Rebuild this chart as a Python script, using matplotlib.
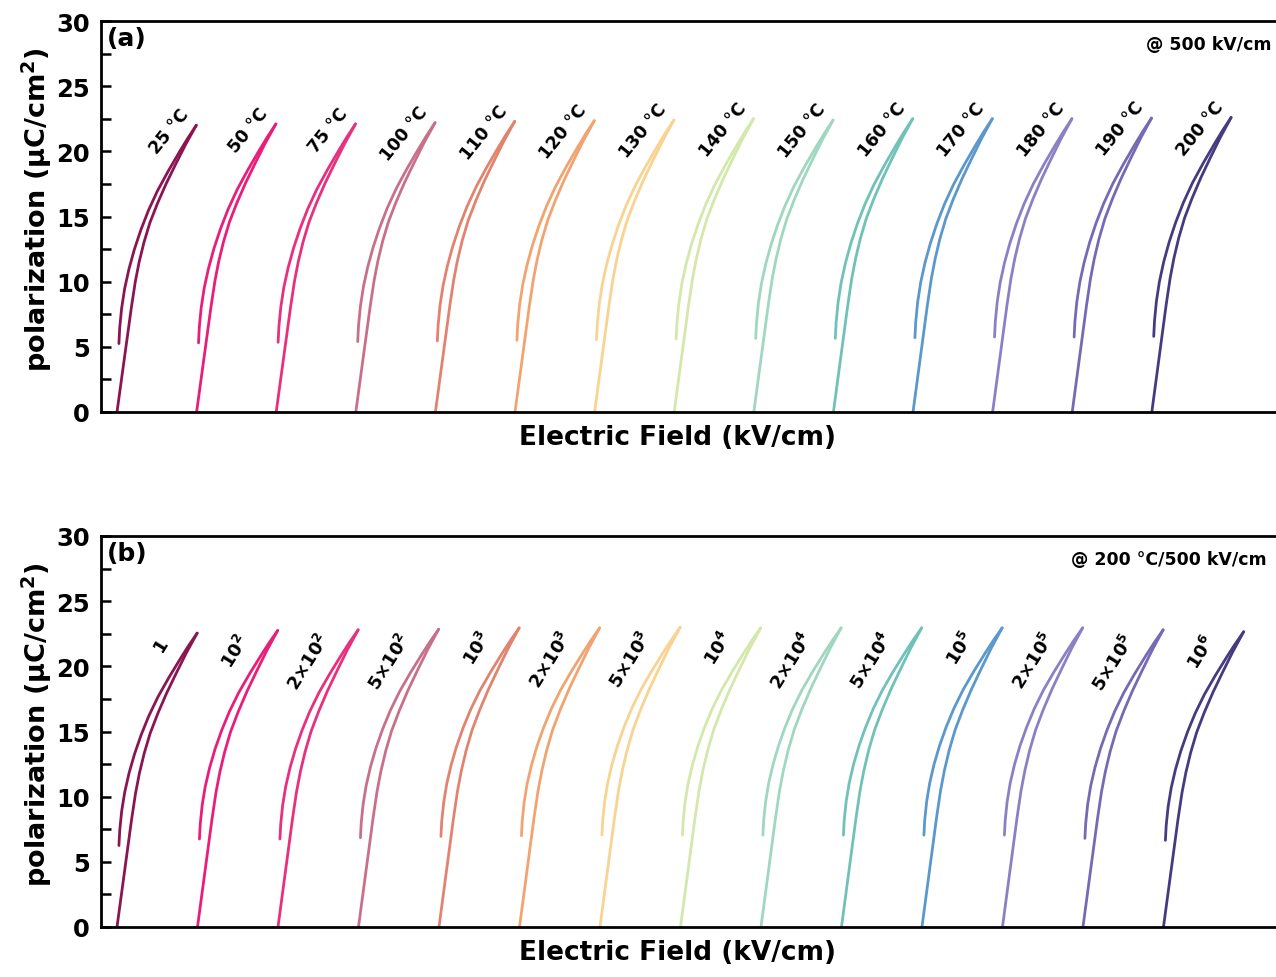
import matplotlib
matplotlib.use("Agg")
import matplotlib.pyplot as plt
from matplotlib.ticker import MultipleLocator
import numpy as np

plt.rcParams["font.family"] = ["DejaVu Sans"]
plt.rcParams["font.weight"] = "bold"
plt.rcParams["mathtext.fontset"] = "custom"
plt.rcParams["mathtext.rm"] = "DejaVu Sans:bold"
plt.rcParams["mathtext.bf"] = "DejaVu Sans:bold"
plt.rcParams["mathtext.it"] = "DejaVu Sans:bold:italic"

# unipolar loop traced at 25 C / 500 kV/cm (Pmax 22.0, Pr 5.3)
E_MAX = 500
E_up = [0, 45, 90, 115, 139, 169, 206, 254, 308, 368, 430, 498]
P_up = [0, 4.0, 8.0, 10.0, 11.5, 13.0, 14.5, 16.0, 17.5, 19.0, 20.5, 22.0]
E_dn = [498, 444, 394, 322, 255, 198, 150, 109, 75, 48, 29, 17, 12]
P_dn = [22.0, 21.0, 20.0, 18.5, 17.0, 15.5, 14.0, 12.5, 11.0, 9.5, 8.0, 6.5, 5.3]
REF_PMAX, REF_PR = 22.0, 5.3

# (a) temperature series
temps = [25, 50, 75, 100, 110, 120, 130, 140, 150, 160, 170, 180, 190, 200]
pmax_T = [22.0, 22.1, 22.1, 22.2, 22.3, 22.35, 22.4, 22.5, 22.4, 22.5, 22.5, 22.5, 22.55, 22.6]
pr_T = [5.25, 5.3, 5.35, 5.4, 5.45, 5.5, 5.55, 5.6, 5.65, 5.65, 5.7, 5.75, 5.75, 5.8]

# (b) fatigue cycles at 200 C
cycles = ["1", r"$10^{2}$", r"$2{\times}10^{2}$", r"$5{\times}10^{2}$", r"$10^{3}$",
          r"$2{\times}10^{3}$", r"$5{\times}10^{3}$", r"$10^{4}$", r"$2{\times}10^{4}$",
          r"$5{\times}10^{4}$", r"$10^{5}$", r"$2{\times}10^{5}$", r"$5{\times}10^{5}$", r"$10^{6}$"]
pmax_N = [22.55, 22.75, 22.8, 22.85, 22.95, 22.95, 23.0, 22.95, 22.95, 22.95, 22.95, 22.95, 22.8, 22.65]
pr_N = [6.25, 6.75, 6.75, 6.85, 6.95, 7.0, 7.05, 7.05, 7.05, 7.05, 7.05, 7.05, 6.8, 6.65]

colors = ["#8B1552", "#E91E7A", "#E8307E", "#C8708A", "#E2836F", "#F2A470", "#F9D391",
          "#D3E8AA", "#9FD7C0", "#70C2B9", "#5B98CC", "#8C80C4", "#7769B3", "#463B80"]


def draw_panel(ax, labels, pmax, pr, xlim, tag, note, note_x, rot, lab_dx, lab_dy, lab_fs):
    up_e = np.array(E_up, float)
    up_p = np.array(P_up, float)
    dn_e = np.array(E_dn, float)
    dn_p = np.array(P_dn, float)
    for i, (lab, pm, r) in enumerate(zip(labels, pmax, pr)):
        x0 = i * E_MAX
        ax.plot(x0 + up_e, up_p * pm / REF_PMAX, color=colors[i], lw=2.0,
                solid_capstyle="round", solid_joinstyle="round")
        p_back = r + (dn_p - REF_PR) * (pm - r) / (REF_PMAX - REF_PR)
        ax.plot(x0 + dn_e, p_back, color=colors[i], lw=2.0,
                solid_capstyle="round", solid_joinstyle="round")
        ax.text(x0 + lab_dx, pm + lab_dy, lab, rotation=rot, rotation_mode="anchor",
                ha="right", va="center", fontsize=lab_fs, fontweight="bold")

    ax.set_xlim(*xlim)
    ax.set_ylim(0, 30)
    ax.set_xticks([])
    ax.yaxis.set_major_locator(MultipleLocator(5))
    ax.yaxis.set_minor_locator(MultipleLocator(2.5))
    ax.tick_params(axis="y", which="both", direction="in", length=7, width=1.8,
                   labelsize=17.5, pad=8)
    for s in ["left", "bottom", "top"]:
        ax.spines[s].set_linewidth(2.0)
    ax.spines["right"].set_visible(False)

    ax.set_ylabel("polarization (μC/cm$^{2}$)", fontsize=19.5, fontweight="bold")
    ax.yaxis.set_label_coords(-0.040, 0.52)
    ax.set_xlabel("Electric Field (kV/cm)", fontsize=19, fontweight="bold")
    ax.xaxis.set_label_coords(0.491, -0.03)

    ax.text(0.005, 0.987, tag, transform=ax.transAxes, ha="left", va="top",
            fontsize=18, fontweight="bold")
    ax.text(note_x, 0.94, note, transform=ax.transAxes, ha="right", va="center",
            fontsize=12.5, fontweight="bold")


fig = plt.figure(figsize=(12.76, 9.78), dpi=100)
W, H = 1276, 978
ax_a = fig.add_axes([101 / W, 1 - 413 / H, 1 - 101 / W, 391 / H])
ax_b = fig.add_axes([101 / W, 1 - 928 / H, 1 - 101 / W, 391 / H])

draw_panel(ax_a, [f"{t} °C" for t in temps], pmax_T, pr_T, (-100.5, 7280),
           "(a)", "@ 500 kV/cm", 0.9965, 51, 430, 1.1, 12.5)
draw_panel(ax_b, cycles, pmax_N, pr_N, (-99.4, 7199),
           "(b)", "@ 200 °C/500 kV/cm", 0.992, 58, 295, -0.4, 13)

fig.savefig("out.png", dpi=100)
